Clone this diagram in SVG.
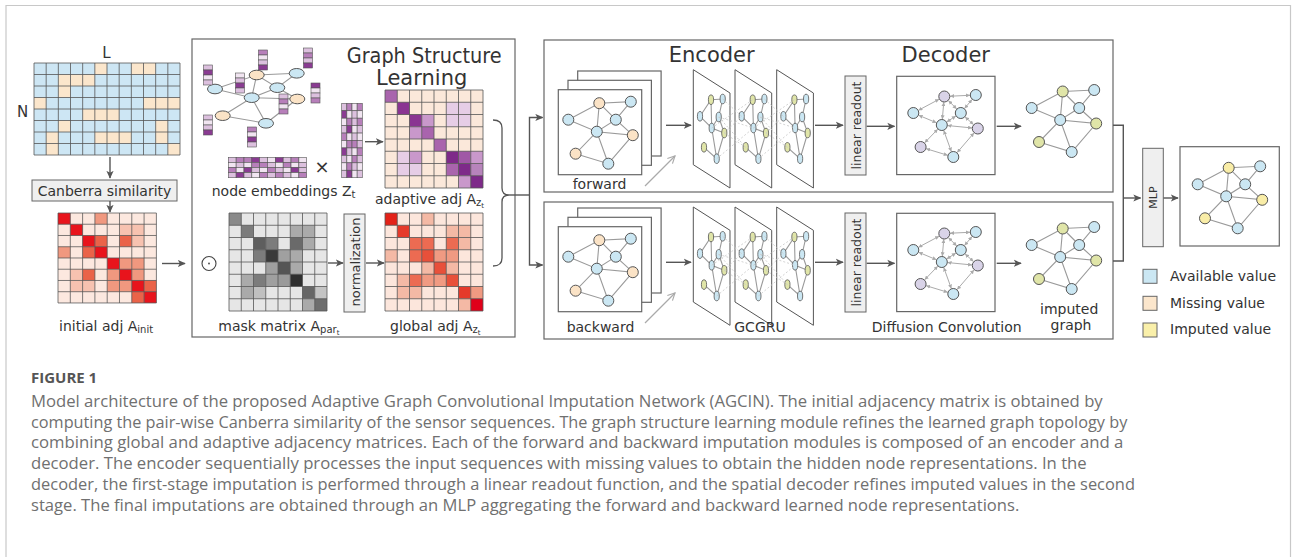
<svg xmlns="http://www.w3.org/2000/svg" xmlns:xlink="http://www.w3.org/1999/xlink" width="1292" height="557" viewBox="0 0 1292 557">
<style>
.t{font-family:"DejaVu Sans",Verdana,sans-serif;fill:#333;}
.box{fill:#fff;stroke:#666;stroke-width:1.2;}
.gbox{fill:#efefef;stroke:#666;stroke-width:1;}
.grid{fill:none;stroke:#555;stroke-width:0.8;}
.cn{stroke:#555;stroke-width:1.4;fill:none;}
.edge{stroke:#9a9a9a;stroke-width:1.1;fill:none;}
.nb{fill:#cbe7f3;stroke:#555;stroke-width:1;}
.na{stroke:#555;stroke-width:1;}
.p1{fill:#f1e5f1;}.p2{fill:#dcc0de;}.p3{fill:#b77fba;}.p4{fill:#8a3b92;}
.cap{font-family:"Open Sans","Liberation Sans",sans-serif;font-size:16px;fill:#707070;}
</style>
<defs>
<marker id="ah" viewBox="0 0 10 10" refX="9" refY="5" markerWidth="8" markerHeight="8" markerUnits="userSpaceOnUse" orient="auto"><path d="M0,0.5L10,5L0,9.5L2.5,5z" fill="#555"/></marker>
<marker id="la" viewBox="0 0 10 10" refX="9" refY="5" markerWidth="9" markerHeight="9" markerUnits="userSpaceOnUse" orient="auto"><path d="M1,1L9,5L1,9" fill="none" stroke="#aaa" stroke-width="1.3"/></marker>
<marker id="dm" viewBox="0 0 6 6" refX="6" refY="3" markerWidth="4" markerHeight="4" orient="auto-start-reverse"><path d="M0,0L6,3L0,6z" fill="#aaa"/></marker>
<path id="grid8" d="M0,0H98V98H0Z M12.25,0V98 M24.5,0V98 M36.75,0V98 M49,0V98 M61.25,0V98 M73.5,0V98 M85.75,0V98 M0,12.25H98 M0,24.5H98 M0,36.75H98 M0,49H98 M0,61.25H98 M0,73.5H98 M0,85.75H98"/>
<rect id="c" width="12.25" height="12.25"/>
<rect id="eh" width="7.84" height="5.1" stroke="#555" stroke-width="0.6"/>
<rect id="ev" width="5.15" height="7.44" stroke="#555" stroke-width="0.6"/>
<rect id="eb" width="9" height="5" stroke="#555" stroke-width="0.6"/>
<path id="ge" class="edge" d="M0,0L31,-16.5L62.5,-18L47.5,0L28.5,12L0,0 M31,-16.5L28.5,12L64.5,15.5L40,44L7.3,34L28.5,12L40,44 M31,-16.5L47.5,0L64.5,15.5"/>
<g id="gd" stroke="#aaa" stroke-width="1" marker-start="url(#dm)" marker-end="url(#dm)">
<line x1="5.12" y1="-2.72" x2="25.88" y2="-13.78"/>
<line x1="36.79" y1="-16.78" x2="56.71" y2="-17.72"/>
<line x1="30.49" y1="-10.72" x2="29.01" y2="6.22"/>
<line x1="35.1" y1="-12.4" x2="43.4" y2="-4.1"/>
<line x1="58.79" y1="-13.54" x2="51.21" y2="-4.46"/>
<line x1="42.6" y1="3.1" x2="33.4" y2="8.9"/>
<line x1="5.35" y1="2.25" x2="23.15" y2="9.75"/>
<line x1="34.27" y1="12.56" x2="58.73" y2="14.94"/>
<line x1="51.79" y1="3.91" x2="60.21" y2="11.59"/>
<line x1="30.46" y1="17.46" x2="38.04" y2="38.54"/>
<line x1="12.85" y1="35.7" x2="34.45" y2="42.3"/>
<line x1="60.72" y1="19.9" x2="43.78" y2="39.6"/>
<line x1="11.33" y1="29.82" x2="24.47" y2="16.18"/>
</g>
<g id="gb" class="nb"><circle cx="0" cy="0" r="5.5"/><circle cx="62.5" cy="-18" r="5.5"/><circle cx="47.5" cy="0" r="5.5"/><circle cx="28.5" cy="12" r="5.5"/><circle cx="40" cy="44" r="5.5"/></g>
<g id="ga" class="na"><circle cx="31" cy="-16.5" r="5.5"/><circle cx="64.5" cy="15.5" r="5.5"/><circle cx="7.3" cy="34" r="5.5"/></g>
<g id="pl">
<polygon points="0,0 36.7,23.3 36.7,118.3 0,95" fill="#fff" stroke="#555" stroke-width="1"/>
<path class="edge" stroke-width="0.9" d="M6.7,46.6L17.7,30L29.4,29.3L25.4,47.3L18.4,58.3L6.7,46.6 M17.7,30L18.4,58.3L31,63.3L23.4,89L10.7,77.6 M18.4,58.3L23.4,89 M25.4,47.3L31,63.3"/>
<g stroke="#555" stroke-width="0.8">
<ellipse cx="17.7" cy="30" rx="2.6" ry="4.8" fill="#e0e5a8"/>
<ellipse cx="29.4" cy="29.3" rx="2.6" ry="4.8" fill="#cbe7f3"/>
<ellipse cx="6.7" cy="46.6" rx="2.6" ry="4.8" fill="#cbe7f3"/>
<ellipse cx="25.4" cy="47.3" rx="2.6" ry="4.8" fill="#cbe7f3"/>
<ellipse cx="18.4" cy="58.3" rx="2.6" ry="4.8" fill="#cbe7f3"/>
<ellipse cx="31" cy="63.3" rx="2.6" ry="4.8" fill="#e0e5a8"/>
<ellipse cx="10.7" cy="77.6" rx="2.6" ry="4.8" fill="#e0e5a8"/>
<ellipse cx="23.4" cy="89" rx="2.6" ry="4.8" fill="#cbe7f3"/>
</g>
</g>
<path id="pd" fill="none" stroke="#c8c8c8" stroke-width="0.8" stroke-dasharray="2 2" d="M29.4,29.3L48.4,46.6 M25.4,47.3L60.1,58.3 M31,63.3L48.4,46.6 M31,63.3L52.4,77.6 M23.4,89L60.1,58.3 M18.4,58.3L59.4,30 M25.4,47.3L52.4,77.6"/>
<g id="stack">
<rect x="577.7" y="71" width="83.4" height="85" class="box" stroke-width="1"/>
<rect x="568" y="80.3" width="83.4" height="85" class="box" stroke-width="1"/>
<rect x="558.3" y="89.7" width="83.4" height="85" class="box" stroke-width="1"/>
</g>
</defs>

<path d="M6,557V5.5H1290.5V557" fill="none" stroke="#c8c8c8" stroke-width="1.2"/>

<g id="input-matrix">
<text class="t" x="106.5" y="58" font-size="15" text-anchor="middle">L</text>
<text class="t" x="22.5" y="117" font-size="15" text-anchor="middle">N</text>
<rect x="34" y="63" width="146" height="92" fill="#cde6f4"/>
<g fill="#fbe6cc">
<rect x="94.83" y="63" width="12.17" height="11.5"/>
<rect x="131.33" y="63" width="24.33" height="11.5"/>
<rect x="58.33" y="74.5" width="36.5" height="11.5"/>
<rect x="58.33" y="86" width="12.17" height="11.5"/>
<rect x="34" y="97.5" width="12.17" height="11.5"/>
<rect x="143.5" y="97.5" width="36.5" height="11.5"/>
<rect x="82.67" y="109" width="36.5" height="11.5"/>
<rect x="58.33" y="120.5" width="12.17" height="11.5"/>
<rect x="155.67" y="120.5" width="12.17" height="11.5"/>
<rect x="46.17" y="132" width="12.17" height="11.5"/>
<rect x="94.83" y="132" width="36.5" height="11.5"/>
<rect x="155.67" y="132" width="12.17" height="11.5"/>
<rect x="46.17" y="143.5" width="12.17" height="11.5"/>
<rect x="167.83" y="143.5" width="12.17" height="11.5"/>
</g>
<path class="grid" d="M34,63H180V155H34Z M46.17,63V155 M58.33,63V155 M70.5,63V155 M82.67,63V155 M94.83,63V155 M107,63V155 M119.17,63V155 M131.33,63V155 M143.5,63V155 M155.67,63V155 M167.83,63V155 M34,74.5H180 M34,86H180 M34,97.5H180 M34,109H180 M34,120.5H180 M34,132H180 M34,143.5H180"/>
</g>

<g id="canberra">
<rect x="32" y="180" width="145" height="21" class="gbox"/>
<text class="t" x="104.5" y="195.5" font-size="14" text-anchor="middle">Canberra similarity</text>
</g>

<g id="initial-adj">
<g transform="translate(58,213) scale(1.004,0.918)">
<rect width="98" height="98" fill="#fce8df"/>
<use href="#c" x="0" y="0" fill="#e8141c"/><use href="#c" x="36.75" y="0" fill="#f0987f"/>
<use href="#c" x="12.25" y="12.25" fill="#e8141c"/><use href="#c" x="61.25" y="12.25" fill="#f7c2b0"/><use href="#c" x="73.5" y="12.25" fill="#f7c2b0"/>
<use href="#c" x="24.5" y="24.5" fill="#e8141c"/><use href="#c" x="36.75" y="24.5" fill="#ea6349"/><use href="#c" x="61.25" y="24.5" fill="#ea6349"/><use href="#c" x="73.5" y="24.5" fill="#f7c2b0"/>
<use href="#c" x="0" y="36.75" fill="#f0987f"/><use href="#c" x="24.5" y="36.75" fill="#ea6349"/><use href="#c" x="36.75" y="36.75" fill="#e8141c"/>
<use href="#c" x="49" y="49" fill="#e8141c"/><use href="#c" x="61.25" y="49" fill="#f0987f"/><use href="#c" x="73.5" y="49" fill="#f0987f"/>
<use href="#c" x="12.25" y="61.25" fill="#f7c2b0"/><use href="#c" x="24.5" y="61.25" fill="#ea6349"/><use href="#c" x="49" y="61.25" fill="#f0987f"/><use href="#c" x="61.25" y="61.25" fill="#e8141c"/><use href="#c" x="73.5" y="61.25" fill="#f0987f"/>
<use href="#c" x="12.25" y="73.5" fill="#f7c2b0"/><use href="#c" x="24.5" y="73.5" fill="#f7c2b0"/><use href="#c" x="49" y="73.5" fill="#f0987f"/><use href="#c" x="61.25" y="73.5" fill="#f0987f"/><use href="#c" x="73.5" y="73.5" fill="#e8141c"/><use href="#c" x="85.75" y="73.5" fill="#ea6349"/>
<use href="#c" x="73.5" y="85.75" fill="#ea6349"/><use href="#c" x="85.75" y="85.75" fill="#e8141c"/>
<use href="#grid8" class="grid" vector-effect="non-scaling-stroke"/>
</g>
<text class="t" x="59" y="331" font-size="14">initial adj A<tspan font-size="10" dy="2">init</tspan></text>
</g>

<g id="graph-structure-learning">
<rect x="192" y="39" width="323" height="298" class="box"/>
<text class="t" x="424.2" y="63" font-size="21" text-anchor="middle" textLength="155" lengthAdjust="spacingAndGlyphs">Graph Structure</text>
<text class="t" x="421.7" y="85" font-size="21" text-anchor="middle">Learning</text>
<path class="edge" d="M215,89L256.7,75L296.7,73.3 M256.7,75L277.3,87.7L296.7,73.3 M256.7,75L251.7,97.7 M215,89L251.7,97.7L277.3,87.7 M251.7,97.7L297.3,99L277.3,87.7 M251.7,97.7L266,123.3L297.3,99 M222.7,115.7L266,123.3 M222.7,115.7L251.7,97.7"/>
<g stroke="#555" stroke-width="1">
<ellipse cx="256.7" cy="75" rx="7.5" ry="4.8" fill="#fbe3c6"/>
<ellipse cx="296.7" cy="73.3" rx="7.5" ry="4.8" fill="#cbe7f3"/>
<ellipse cx="215" cy="89" rx="7.5" ry="4.8" fill="#cbe7f3"/>
<ellipse cx="277.3" cy="87.7" rx="7.5" ry="4.8" fill="#cbe7f3"/>
<ellipse cx="251.7" cy="97.7" rx="7.5" ry="4.8" fill="#cbe7f3"/>
<ellipse cx="297.3" cy="99" rx="7.5" ry="4.8" fill="#fbe3c6"/>
<ellipse cx="222.7" cy="115.7" rx="7.5" ry="4.8" fill="#fbe3c6"/>
<ellipse cx="266" cy="123.3" rx="7.5" ry="4.8" fill="#cbe7f3"/>
</g>
<g>
<use href="#eb" x="258.5" y="50" class="p3"/><use href="#eb" x="258.5" y="55" class="p1"/><use href="#eb" x="258.5" y="60" class="p2"/><use href="#eb" x="258.5" y="65" class="p4"/>
<use href="#eb" x="303.5" y="48" class="p2"/><use href="#eb" x="303.5" y="53" class="p3"/><use href="#eb" x="303.5" y="58" class="p2"/><use href="#eb" x="303.5" y="63" class="p4"/>
<use href="#eb" x="203.5" y="65" class="p2"/><use href="#eb" x="203.5" y="70" class="p4"/><use href="#eb" x="203.5" y="75" class="p1"/><use href="#eb" x="203.5" y="80" class="p2"/>
<use href="#eb" x="235.5" y="73" class="p1"/><use href="#eb" x="235.5" y="78" class="p2"/><use href="#eb" x="235.5" y="83" class="p4"/><use href="#eb" x="235.5" y="88" class="p2"/>
<use href="#eb" x="311" y="83" class="p4"/><use href="#eb" x="311" y="88" class="p1"/><use href="#eb" x="311" y="93" class="p2"/><use href="#eb" x="311" y="98" class="p3"/>
<use href="#eb" x="279" y="94" class="p2"/><use href="#eb" x="279" y="99" class="p3"/><use href="#eb" x="279" y="104" class="p1"/><use href="#eb" x="279" y="109" class="p3"/>
<use href="#eb" x="203.5" y="115" class="p2"/><use href="#eb" x="203.5" y="120" class="p1"/><use href="#eb" x="203.5" y="125" class="p2"/><use href="#eb" x="203.5" y="130" class="p4"/>
<use href="#eb" x="247.5" y="127" class="p3"/><use href="#eb" x="247.5" y="132" class="p1"/><use href="#eb" x="247.5" y="137" class="p4"/><use href="#eb" x="247.5" y="142" class="p2"/>
</g>
<g transform="translate(228.3,157.3)">
<use href="#eh" x="0" y="0" class="p2"/><use href="#eh" x="7.84" y="0" class="p3"/><use href="#eh" x="15.68" y="0" class="p3"/><use href="#eh" x="23.52" y="0" class="p4"/><use href="#eh" x="31.36" y="0" class="p2"/><use href="#eh" x="39.2" y="0" class="p1"/><use href="#eh" x="47.04" y="0" class="p4"/><use href="#eh" x="54.88" y="0" class="p2"/><use href="#eh" x="62.72" y="0" class="p3"/><use href="#eh" x="70.56" y="0" class="p1"/>
<use href="#eh" x="0" y="5.1" class="p1"/><use href="#eh" x="7.84" y="5.1" class="p2"/><use href="#eh" x="15.68" y="5.1" class="p1"/><use href="#eh" x="23.52" y="5.1" class="p3"/><use href="#eh" x="31.36" y="5.1" class="p3"/><use href="#eh" x="39.2" y="5.1" class="p2"/><use href="#eh" x="47.04" y="5.1" class="p1"/><use href="#eh" x="54.88" y="5.1" class="p3"/><use href="#eh" x="62.72" y="5.1" class="p1"/><use href="#eh" x="70.56" y="5.1" class="p2"/>
<use href="#eh" x="0" y="10.2" class="p3"/><use href="#eh" x="7.84" y="10.2" class="p1"/><use href="#eh" x="15.68" y="10.2" class="p4"/><use href="#eh" x="23.52" y="10.2" class="p2"/><use href="#eh" x="31.36" y="10.2" class="p1"/><use href="#eh" x="39.2" y="10.2" class="p3"/><use href="#eh" x="47.04" y="10.2" class="p2"/><use href="#eh" x="54.88" y="10.2" class="p1"/><use href="#eh" x="62.72" y="10.2" class="p4"/><use href="#eh" x="70.56" y="10.2" class="p2"/>
<use href="#eh" x="0" y="15.3" class="p2"/><use href="#eh" x="7.84" y="15.3" class="p4"/><use href="#eh" x="15.68" y="15.3" class="p2"/><use href="#eh" x="23.52" y="15.3" class="p1"/><use href="#eh" x="31.36" y="15.3" class="p3"/><use href="#eh" x="39.2" y="15.3" class="p2"/><use href="#eh" x="47.04" y="15.3" class="p3"/><use href="#eh" x="54.88" y="15.3" class="p2"/><use href="#eh" x="62.72" y="15.3" class="p1"/><use href="#eh" x="70.56" y="15.3" class="p3"/>
</g>
<text class="t" x="322" y="173" font-size="18" text-anchor="middle">×</text>
<g transform="translate(341.7,103.3)">
<use href="#ev" x="0" y="0" class="p2"/><use href="#ev" x="5.15" y="0" class="p3"/><use href="#ev" x="10.3" y="0" class="p1"/><use href="#ev" x="15.45" y="0" class="p3"/>
<use href="#ev" x="0" y="7.44" class="p4"/><use href="#ev" x="5.15" y="7.44" class="p1"/><use href="#ev" x="10.3" y="7.44" class="p2"/><use href="#ev" x="15.45" y="7.44" class="p1"/>
<use href="#ev" x="0" y="14.88" class="p1"/><use href="#ev" x="5.15" y="14.88" class="p3"/><use href="#ev" x="10.3" y="14.88" class="p2"/><use href="#ev" x="15.45" y="14.88" class="p3"/>
<use href="#ev" x="0" y="22.32" class="p2"/><use href="#ev" x="5.15" y="22.32" class="p4"/><use href="#ev" x="10.3" y="22.32" class="p1"/><use href="#ev" x="15.45" y="22.32" class="p2"/>
<use href="#ev" x="0" y="29.76" class="p3"/><use href="#ev" x="5.15" y="29.76" class="p1"/><use href="#ev" x="10.3" y="29.76" class="p2"/><use href="#ev" x="15.45" y="29.76" class="p1"/>
<use href="#ev" x="0" y="37.2" class="p1"/><use href="#ev" x="5.15" y="37.2" class="p3"/><use href="#ev" x="10.3" y="37.2" class="p3"/><use href="#ev" x="15.45" y="37.2" class="p2"/>
<use href="#ev" x="0" y="44.64" class="p4"/><use href="#ev" x="5.15" y="44.64" class="p2"/><use href="#ev" x="10.3" y="44.64" class="p1"/><use href="#ev" x="15.45" y="44.64" class="p3"/>
<use href="#ev" x="0" y="52.08" class="p2"/><use href="#ev" x="5.15" y="52.08" class="p1"/><use href="#ev" x="10.3" y="52.08" class="p3"/><use href="#ev" x="15.45" y="52.08" class="p2"/>
<use href="#ev" x="0" y="59.52" class="p1"/><use href="#ev" x="5.15" y="59.52" class="p3"/><use href="#ev" x="10.3" y="59.52" class="p2"/><use href="#ev" x="15.45" y="59.52" class="p1"/>
<use href="#ev" x="0" y="66.96" class="p2"/><use href="#ev" x="5.15" y="66.96" class="p4"/><use href="#ev" x="10.3" y="66.96" class="p1"/><use href="#ev" x="15.45" y="66.96" class="p2"/>
</g>
<text class="t" x="211.7" y="196" font-size="14">node embeddings Z<tspan font-size="10" dy="2">t</tspan></text>
<g transform="translate(385,90)">
<rect width="98" height="98" fill="#fbe8da"/>
<use href="#c" x="0" y="0" fill="#a964ad"/>
<use href="#c" x="12.25" y="12.25" fill="#8a3592"/><use href="#c" x="61.25" y="12.25" fill="#e6cde6"/><use href="#c" x="73.5" y="12.25" fill="#e6cde6"/>
<use href="#c" x="24.5" y="24.5" fill="#8a3592"/><use href="#c" x="36.75" y="24.5" fill="#c998cb"/><use href="#c" x="61.25" y="24.5" fill="#e6cde6"/><use href="#c" x="73.5" y="24.5" fill="#e6cde6"/>
<use href="#c" x="24.5" y="36.75" fill="#c998cb"/><use href="#c" x="36.75" y="36.75" fill="#a964ad"/>
<use href="#c" x="49" y="49" fill="#a964ad"/>
<use href="#c" x="12.25" y="61.25" fill="#e6cde6"/><use href="#c" x="24.5" y="61.25" fill="#c998cb"/><use href="#c" x="61.25" y="61.25" fill="#7e2a89"/><use href="#c" x="73.5" y="61.25" fill="#a058a6"/><use href="#c" x="85.75" y="61.25" fill="#c998cb"/>
<use href="#c" x="12.25" y="73.5" fill="#e6cde6"/><use href="#c" x="24.5" y="73.5" fill="#e6cde6"/><use href="#c" x="61.25" y="73.5" fill="#a964ad"/><use href="#c" x="73.5" y="73.5" fill="#7e2a89"/><use href="#c" x="85.75" y="73.5" fill="#b784bb"/>
<use href="#c" x="73.5" y="85.75" fill="#c998cb"/><use href="#c" x="85.75" y="85.75" fill="#7e2a89"/>
<use href="#grid8" class="grid"/>
</g>
<text class="t" x="375" y="204" font-size="14">adaptive adj A<tspan font-size="10" dy="2">z</tspan><tspan font-size="7" dy="2">t</tspan></text>
<circle cx="209" cy="263.5" r="7" fill="none" stroke="#444" stroke-width="1.1"/>
<circle cx="209" cy="263.5" r="0.9" fill="#444"/>
<g transform="translate(229,213)">
<rect width="98" height="98" fill="#e6e6e6"/>
<use href="#c" x="0" y="0" fill="#8a8a8a"/>
<use href="#c" x="12.25" y="12.25" fill="#7c7c7c"/><use href="#c" x="61.25" y="12.25" fill="#aaa"/><use href="#c" x="73.5" y="12.25" fill="#aaa"/>
<use href="#c" x="24.5" y="24.5" fill="#5e5e5e"/><use href="#c" x="36.75" y="24.5" fill="#7c7c7c"/><use href="#c" x="61.25" y="24.5" fill="#6a6a6a"/><use href="#c" x="73.5" y="24.5" fill="#aaa"/>
<use href="#c" x="24.5" y="36.75" fill="#7c7c7c"/><use href="#c" x="36.75" y="36.75" fill="#3a3a3a"/><use href="#c" x="49" y="36.75" fill="#a0a0a0"/><use href="#c" x="61.25" y="36.75" fill="#aaa"/>
<use href="#c" x="36.75" y="49" fill="#a0a0a0"/><use href="#c" x="49" y="49" fill="#555"/><use href="#c" x="61.25" y="49" fill="#aaa"/>
<use href="#c" x="12.25" y="61.25" fill="#aaa"/><use href="#c" x="24.5" y="61.25" fill="#7c7c7c"/><use href="#c" x="36.75" y="61.25" fill="#a0a0a0"/><use href="#c" x="49" y="61.25" fill="#9a9a9a"/><use href="#c" x="61.25" y="61.25" fill="#2f2f2f"/>
<use href="#c" x="12.25" y="73.5" fill="#aaa"/><use href="#c" x="24.5" y="73.5" fill="#c0c0c0"/><use href="#c" x="73.5" y="73.5" fill="#666"/><use href="#c" x="85.75" y="73.5" fill="#c4c4c4"/>
<use href="#c" x="73.5" y="85.75" fill="#aaa"/><use href="#c" x="85.75" y="85.75" fill="#6e6e6e"/>
<use href="#grid8" class="grid"/>
</g>
<text class="t" x="218.3" y="331" font-size="14">mask matrix A<tspan font-size="10" dy="2">par</tspan><tspan font-size="7" dy="2">t</tspan></text>
<rect x="344" y="214" width="21" height="98" class="gbox"/>
<text class="t" font-size="13" text-anchor="middle" transform="translate(359.5,262) rotate(-90)">normalization</text>
<g transform="translate(385,213)">
<rect width="98" height="98" fill="#fce6dc"/>
<use href="#c" x="0" y="0" fill="#e32219"/><use href="#c" x="36.75" y="0" fill="#f4b9a5"/>
<use href="#c" x="12.25" y="12.25" fill="#e53a2b"/><use href="#c" x="61.25" y="12.25" fill="#f4b9a5"/><use href="#c" x="73.5" y="12.25" fill="#f4b9a5"/>
<use href="#c" x="24.5" y="24.5" fill="#ec6b52"/><use href="#c" x="36.75" y="24.5" fill="#ec6b52"/><use href="#c" x="61.25" y="24.5" fill="#ec6b52"/><use href="#c" x="73.5" y="24.5" fill="#f4b9a5"/>
<use href="#c" x="0" y="36.75" fill="#f4b9a5"/><use href="#c" x="24.5" y="36.75" fill="#ec6b52"/><use href="#c" x="36.75" y="36.75" fill="#e8503a"/><use href="#c" x="49" y="36.75" fill="#f09a82"/><use href="#c" x="61.25" y="36.75" fill="#f09a82"/>
<use href="#c" x="36.75" y="49" fill="#f4b9a5"/><use href="#c" x="49" y="49" fill="#e8503a"/><use href="#c" x="61.25" y="49" fill="#f4b9a5"/>
<use href="#c" x="12.25" y="61.25" fill="#f4b9a5"/><use href="#c" x="24.5" y="61.25" fill="#ec6b52"/><use href="#c" x="36.75" y="61.25" fill="#f09a82"/><use href="#c" x="49" y="61.25" fill="#f09a82"/><use href="#c" x="61.25" y="61.25" fill="#e8503a"/>
<use href="#c" x="12.25" y="73.5" fill="#f4b9a5"/><use href="#c" x="24.5" y="73.5" fill="#f4b9a5"/><use href="#c" x="73.5" y="73.5" fill="#e53a2b"/><use href="#c" x="85.75" y="73.5" fill="#f09a82"/>
<use href="#c" x="73.5" y="85.75" fill="#f4b9a5"/><use href="#c" x="85.75" y="85.75" fill="#e0001a"/>
<use href="#grid8" class="grid"/>
</g>
<text class="t" x="390" y="331" font-size="14">global adj A<tspan font-size="10" dy="2">z</tspan><tspan font-size="7" dy="2">t</tspan></text>
</g>

<g id="forward-module">
<rect x="544" y="40" width="569" height="152" class="box"/>
<text class="t" x="711.7" y="62" font-size="21" text-anchor="middle">Encoder</text>
<text class="t" x="945.8" y="62" font-size="21" text-anchor="middle">Decoder</text>
<use href="#stack"/>
<g transform="translate(568.3,119.7)"><use href="#ge"/><use href="#gb"/><use href="#ga" fill="#fbe3c6"/></g>
<text class="t" x="599.5" y="189" font-size="14" text-anchor="middle">forward</text>
<use href="#pl" transform="translate(693.3,69.7)"/>
<use href="#pl" transform="translate(735,69.7)"/>
<use href="#pl" transform="translate(776.7,69.7)"/>
<use href="#pd" transform="translate(693.3,69.7)"/>
<use href="#pd" transform="translate(735,69.7)"/>
<rect x="845" y="76" width="21" height="99" class="gbox"/>
<text class="t" font-size="12.5" text-anchor="middle" transform="translate(860.5,125.5) rotate(-90)">linear readout</text>
<rect x="896.7" y="76.3" width="98.3" height="98.3" class="box" stroke-width="1"/>
<g transform="translate(913.3,113)"><use href="#gd"/><use href="#gb"/><use href="#ga" fill="#d9d3e8"/></g>
<g transform="translate(1031.7,108)"><use href="#ge"/><use href="#gb"/><use href="#ga" fill="#e0e5a8"/></g>
</g>

<g id="backward-module">
<rect x="544" y="202" width="569" height="137" class="box"/>
<use href="#stack" transform="translate(0,137)"/>
<g transform="translate(568.3,256.7)"><use href="#ge"/><use href="#gb"/><use href="#ga" fill="#fbe3c6"/></g>
<text class="t" x="600.5" y="331.5" font-size="14" text-anchor="middle">backward</text>
<use href="#pl" transform="translate(693.3,207)"/>
<use href="#pl" transform="translate(735,207)"/>
<use href="#pl" transform="translate(776.7,207)"/>
<use href="#pd" transform="translate(693.3,207)"/>
<use href="#pd" transform="translate(735,207)"/>
<text class="t" x="760" y="331.5" font-size="14" text-anchor="middle">GCGRU</text>
<rect x="845" y="213" width="21" height="99" class="gbox"/>
<text class="t" font-size="12.5" text-anchor="middle" transform="translate(860.5,262.5) rotate(-90)">linear readout</text>
<rect x="896.7" y="213.3" width="98.3" height="98.3" class="box" stroke-width="1"/>
<g transform="translate(913.3,250)"><use href="#gd"/><use href="#gb"/><use href="#ga" fill="#d9d3e8"/></g>
<text class="t" x="946.7" y="332" font-size="14" text-anchor="middle">Diffusion Convolution</text>
<g transform="translate(1031.7,245)"><use href="#ge"/><use href="#gb"/><use href="#ga" fill="#e0e5a8"/></g>
<text class="t" x="1069.2" y="314" font-size="14" text-anchor="middle">imputed</text>
<text class="t" x="1071" y="330" font-size="14" text-anchor="middle">graph</text>
</g>

<g id="mlp">
<rect x="1142.7" y="148.3" width="20.6" height="98.4" class="gbox"/>
<text class="t" font-size="11" text-anchor="middle" transform="translate(1157,197.5) rotate(-90)">MLP</text>
</g>

<g id="final-graph">
<rect x="1180" y="146.7" width="99.3" height="99.3" class="box" stroke-width="1"/>
<g transform="translate(1197.7,184.3)"><use href="#ge"/><use href="#gb"/><use href="#ga" fill="#f9eda7"/></g>
</g>

<g id="legend">
<rect x="1143" y="269.3" width="14" height="14" fill="#cbe7f3" stroke="#666"/>
<rect x="1143" y="296.3" width="14" height="14" fill="#fbe6cc" stroke="#666"/>
<rect x="1143" y="323" width="14" height="14" fill="#faf0aa" stroke="#666"/>
<text class="t" x="1170" y="281" font-size="14">Available value</text>
<text class="t" x="1170" y="307.7" font-size="14">Missing value</text>
<text class="t" x="1170" y="334.3" font-size="14">Imputed value</text>
</g>

<g id="connectors">
<path class="cn" d="M110,157V178" marker-end="url(#ah)"/>
<path class="cn" d="M110,201V212" marker-end="url(#ah)"/>
<path class="cn" d="M162,263.5H185" marker-end="url(#ah)"/>
<path class="cn" d="M365,141.7H383" marker-end="url(#ah)"/>
<path class="cn" d="M328,263H343" marker-end="url(#ah)"/>
<path class="cn" d="M366,263H384" marker-end="url(#ah)"/>
<path fill="none" stroke="#555" stroke-width="1.3" d="M493,120Q502,120 502,128L502,188Q502,195 509,195Q502,195 502,202L502,258Q502,266 493,266"/>
<path class="cn" d="M509,195H529.5"/>
<path class="cn" d="M529.5,195V117.5H542.5" marker-end="url(#ah)"/>
<path class="cn" d="M529.5,195V265H542.5" marker-end="url(#ah)"/>
<path class="cn" d="M666,125.3H691" marker-end="url(#ah)"/>
<path class="cn" d="M666,262.3H691" marker-end="url(#ah)"/>
<path class="cn" d="M815,125.3H843" marker-end="url(#ah)"/>
<path class="cn" d="M815,262.3H843" marker-end="url(#ah)"/>
<path class="cn" d="M866.7,126.3H894.5" marker-end="url(#ah)"/>
<path class="cn" d="M866.7,263.3H894.5" marker-end="url(#ah)"/>
<path class="cn" d="M996.7,126.3H1021" marker-end="url(#ah)"/>
<path class="cn" d="M996.7,263.3H1021" marker-end="url(#ah)"/>
<path class="cn" d="M1113,125.3H1123.3V261H1113"/>
<path class="cn" d="M1123.3,198H1140.5" marker-end="url(#ah)"/>
<path class="cn" d="M1163.5,198H1178" marker-end="url(#ah)"/>
<path fill="none" stroke="#aaa" stroke-width="1.2" d="M645,186L675,156" marker-end="url(#la)"/>
<path fill="none" stroke="#aaa" stroke-width="1.2" d="M645,323L675,293" marker-end="url(#la)"/>
</g>

<g id="caption">
<text x="31" y="383" font-family="'Open Sans','Liberation Sans',sans-serif" font-size="15" font-weight="bold" fill="#555">FIGURE 1</text>
<text class="cap" x="31" y="407" textLength="1071.7" lengthAdjust="spacingAndGlyphs">Model architecture of the proposed Adaptive Graph Convolutional Imputation Network (AGCIN). The initial adjacency matrix is obtained by</text>
<text class="cap" x="31" y="427.7" textLength="1096.3" lengthAdjust="spacingAndGlyphs">computing the pair-wise Canberra similarity of the sensor sequences. The graph structure learning module refines the learned graph topology by</text>
<text class="cap" x="31" y="448.4" textLength="1092.3" lengthAdjust="spacingAndGlyphs">combining global and adaptive adjacency matrices. Each of the forward and backward imputation modules is composed of an encoder and a</text>
<text class="cap" x="31" y="469.1" textLength="1055.7" lengthAdjust="spacingAndGlyphs">decoder. The encoder sequentially processes the input sequences with missing values to obtain the hidden node representations. In the</text>
<text class="cap" x="31" y="489.8" textLength="1104" lengthAdjust="spacingAndGlyphs">decoder, the first-stage imputation is performed through a linear readout function, and the spatial decoder refines imputed values in the second</text>
<text class="cap" x="31" y="510.5" textLength="988.3" lengthAdjust="spacingAndGlyphs">stage. The final imputations are obtained through an MLP aggregating the forward and backward learned node representations.</text>
</g>
</svg>
